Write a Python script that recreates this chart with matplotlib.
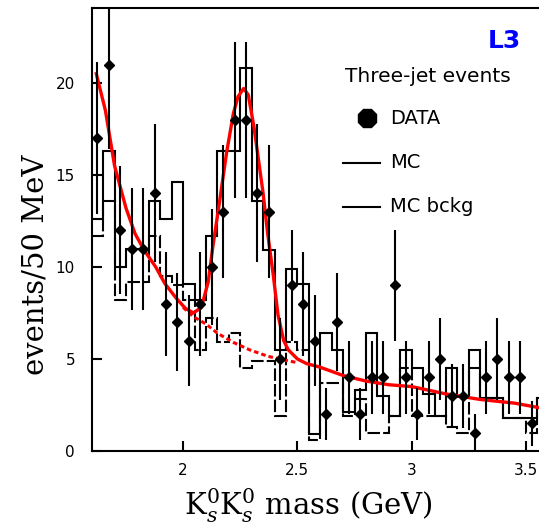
import numpy as np
import matplotlib
matplotlib.use("Agg")
import matplotlib.pyplot as plt

# 50 MeV bins from 1.6 to 3.6 GeV
BIN_EDGES = np.round(np.arange(1.60, 3.601, 0.05), 3)
BIN_CENTERS = BIN_EDGES[:-1] + 0.025

# data (events per bin), last bin is outside the visible range
DATA = [17, 21, 12, 11, 11, 14, 8, 7, 6, 8,
        10, 13, 18, 18, 14, 13, 5, 9, 8, 6,
        2, 7, 4, 2, 4, 4, 9, 4, 2, 4,
        5, 3, 3, 1, 4, 5, 4, 4, 1.5, np.nan]

# Monte Carlo histograms
MC = [12.6, 16.3, 10.0, 11.0, 11.0, 13.6, 12.6, 14.6, 9.1, 8.2,
      11.7, 16.3, 16.3, 20.8, 13.6, 10.9, 5.5, 9.9, 9.1, 0.9,
      6.4, 5.5, 2.1, 3.3, 6.4, 3.0, 1.9, 5.5, 4.5, 3.1,
      1.9, 4.5, 2.95, 5.5, 2.9, 2.9, 1.8, 1.8, 1.8, 2.9]
MC_BKG = [11.7, 13.6, 8.2, 9.2, 9.2, 11.7, 9.5, 9.0, 8.2, 5.5,
          7.2, 5.9, 6.4, 4.5, 4.9, 4.9, 1.9, 5.9, 5.5, 0.6,
          3.7, 3.7, 1.9, 2.8, 1.0, 1.0, 1.9, 4.5, 1.9, 1.9,
          1.9, 1.3, 1.0, 4.5, 2.9, 2.9, 1.8, 1.8, 1.0, 2.9]

# fit curve
FIT_X = [1.62, 1.66, 1.70, 1.75, 1.79, 1.83, 1.88, 1.92, 1.97, 2.01,
         2.045, 2.08, 2.11, 2.13, 2.16, 2.19, 2.22, 2.24, 2.265, 2.285,
         2.31, 2.33, 2.35, 2.37, 2.395, 2.415, 2.44, 2.46, 2.50, 2.54,
         2.60, 2.70, 2.80, 2.90, 3.00, 3.15, 3.30, 3.45, 3.56]
FIT_Y = [20.5, 18.5, 15.5, 13.2, 11.8, 10.9, 10.0, 9.1, 8.3, 7.75,
         7.5, 7.8, 9.2, 11.1, 13.6, 16.2, 18.35, 19.25, 19.7, 19.35,
         17.6, 15.8, 14.0, 11.8, 9.5, 7.4, 6.0, 5.5, 5.0, 4.75,
         4.55, 4.1, 3.8, 3.6, 3.5, 3.1, 2.8, 2.6, 2.35]

# background part of the fit under the peak
BKG_X = [2.00, 2.045, 2.10, 2.15, 2.22, 2.29, 2.37, 2.44, 2.50]
BKG_Y = [7.8, 7.3, 6.9, 6.4, 5.9, 5.5, 5.15, 4.95, 4.8]

W, H = 539, 526
plt.rcParams["mathtext.fontset"] = "dejavuserif"
fig = plt.figure(figsize=(W / 100, H / 100), dpi=100)
ax = fig.add_axes([91.7 / W, 1 - 451 / H, (W - 91.7) / W, 443 / H])

ax.stairs(MC, BIN_EDGES, baseline=None, color="black", linewidth=1.5)
ax.stairs(MC_BKG, BIN_EDGES, baseline=None, color="black", linewidth=1.5,
          linestyle=(0, (6, 1.5)))

ax.plot(FIT_X, FIT_Y, color="red", linewidth=2.4, zorder=4)
ax.plot(BKG_X, BKG_Y, color="red", linewidth=2.2, linestyle=(0, (1.5, 1)), zorder=4)

data = np.array(DATA, dtype=float)
ax.errorbar(BIN_CENTERS, data, yerr=np.sqrt(data), fmt="D", color="black",
            markersize=5.5, elinewidth=1.5, capsize=0, zorder=5)

ax.set_xlim(1.6, 3.557)
ax.set_ylim(0, 24.07)
ax.set_xticks([2, 2.5, 3, 3.5])
ax.set_xticklabels(["2", "2.5", "3", "3.5"])
ax.set_yticks([0, 5, 10, 15, 20])
ax.tick_params(axis="both", direction="in", length=7, width=1.5, labelsize=11)
ax.tick_params(axis="x", pad=8.5)
ax.tick_params(axis="y", pad=12)
ax.spines["right"].set_visible(False)
for s in ("left", "bottom", "top"):
    ax.spines[s].set_linewidth(1.5)

# legend block
ax.text(0.922, 0.925, "L3", transform=ax.transAxes, color="#0000ff",
        fontsize=18, fontweight="bold", ha="center", va="center")
ax.text(0.566, 0.846, "Three-jet events", transform=ax.transAxes,
        fontsize=14.5, ha="left", va="center")
ax.plot([0.615], [0.751], marker="8", color="black", markersize=14,
        transform=ax.transAxes, clip_on=False)
ax.text(0.667, 0.751, "DATA", transform=ax.transAxes, fontsize=14,
        ha="left", va="center")
ax.plot([0.562, 0.645], [0.651, 0.651], color="black", linewidth=1.5,
        transform=ax.transAxes)
ax.text(0.667, 0.651, "MC", transform=ax.transAxes, fontsize=14,
        ha="left", va="center")
ax.plot([0.562, 0.645], [0.551, 0.551], color="black", linewidth=1.5,
        transform=ax.transAxes)
ax.text(0.667, 0.551, "MC bckg", transform=ax.transAxes, fontsize=14,
        ha="left", va="center")

fig.text(36 / W, 1 - 265 / H, "events/50 MeV", rotation=90, fontsize=21,
         family="DejaVu Serif", ha="center", va="center")
fig.text(308 / W, 1 - 506 / H, r"$\mathrm{K}^0_s\mathrm{K}^0_s$ mass (GeV)",
         fontsize=21, family="DejaVu Serif", ha="center", va="center")

fig.savefig("out.png", dpi=100)
